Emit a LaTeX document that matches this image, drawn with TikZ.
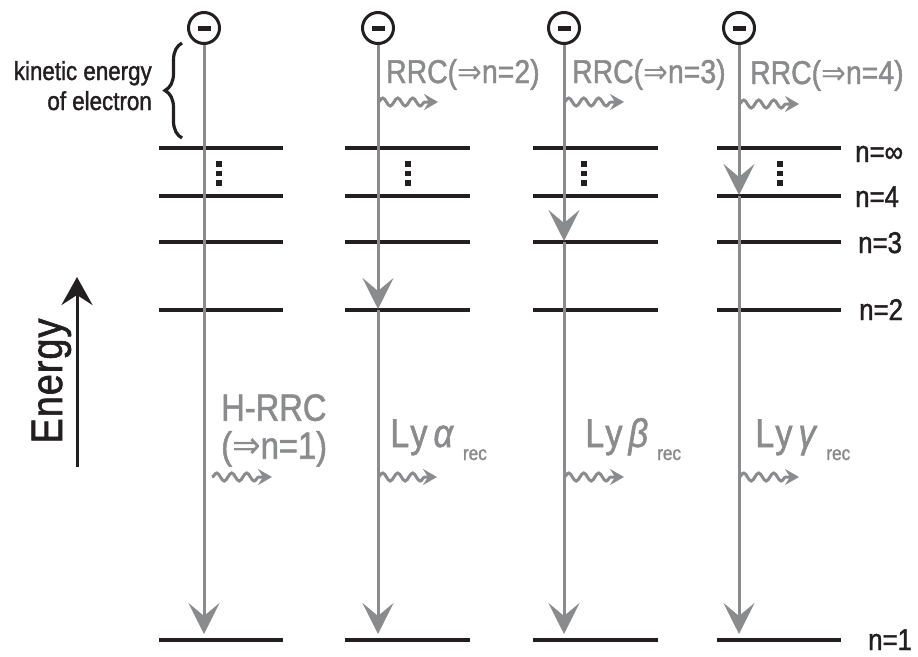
\documentclass[tikz,border=0pt]{standalone}
\usepackage{fontspec}
\setmainfont{Liberation Sans}[FakeStretch=0.86, FakeBold=1.4]
\newfontfamily\symf{DejaVu Sans}[FakeStretch=0.9]
\usetikzlibrary{arrows.meta,decorations.pathmorphing,decorations.pathreplacing}
\definecolor{lgray}{HTML}{8A8B8D}
\definecolor{dk}{HTML}{231F20}
\newcommand{\myra}{{\symf ⇒}}
\begin{document}
\begin{tikzpicture}[x=1pt,y=-1pt,
  level/.style={draw=dk, line width=3.5pt},
  eline/.style={draw=lgray, line width=3pt},
  earrow/.style={eline, -{Stealth[length=31pt,width=31pt,inset=13pt]}, color=lgray},
  photon/.style={draw=lgray, line width=3pt, decorate,
    decoration={snake, amplitude=4pt, segment length=15pt, post length=11pt},
    -{Stealth[length=14pt,width=16pt,inset=5pt]}},
  glabel/.style={text=lgray, inner sep=0pt, anchor=base west},
  lvl/.style={text=dk, inner sep=0pt, anchor=base west, font=\fontsize{30}{30}\selectfont},
  blabel/.style={text=dk, inner sep=0pt, anchor=base east, font=\fontsize{26}{26}\selectfont},
  electron/.style={circle, draw=dk, line width=3pt, minimum size=31pt, inner sep=0pt, fill=white}
]
\useasboundingbox (0,0) rectangle (918,656);

% levels, dots, electrons
\foreach \ci/\colx/\barl/\barrr/\dotx in {1/204/159/283/219, 2/378/345/470/408, 3/564/533/658/584, 4/739/717/841/780}{
  \foreach \lv/\yy in {inf/148, 4/196, 3/242, 2/310, 1/640}{
    \draw[level] (\barl,\yy) -- (\barrr,\yy);
    \coordinate (c\ci-\lv) at (\colx,\yy);
  }
  \foreach \dy in {164,173.5,183}{
    \fill[dk] (\dotx-2.7,\dy-2.7) rectangle (\dotx+2.7,\dy+2.7);
  }
  \node[electron] (e\ci) at (\colx,28) {};
  \fill[dk] (\colx-6.5,25.5) rectangle (\colx+6.5,30.5);
  \coordinate (t\ci) at (\colx,634);
}

% electron transitions
\coordinate (s2) at (378,309);
\coordinate (s3) at (564,241);
\coordinate (s4) at (739,195);
\draw[earrow] (e1.south) -- (t1);
\draw[earrow] (e2.south) -- (s2);
\draw[earrow] (c2-2) -- (t2);
\draw[earrow] (e3.south) -- (s3);
\draw[earrow] (c3-3) -- (t3);
\draw[earrow] (e4.south) -- (s4);
\draw[earrow] (c4-4) -- (t4);

% photons
\coordinate (p2a) at (378,102); \coordinate (p2b) at (438,102);
\coordinate (p3a) at (564,102); \coordinate (p3b) at (624,102);
\coordinate (p4a) at (739,104); \coordinate (p4b) at (799,104);
\coordinate (q1a) at (212,477); \coordinate (q1b) at (272,477);
\coordinate (q2a) at (378,477); \coordinate (q2b) at (437,477);
\coordinate (q3a) at (564,477); \coordinate (q3b) at (624,477);
\coordinate (q4a) at (739,477); \coordinate (q4b) at (799,477);
\foreach \a/\b in {p2a/p2b, p3a/p3b, p4a/p4b, q1a/q1b, q2a/q2b, q3a/q3b, q4a/q4b}{
  \draw[photon] (\a) -- (\b);
}

% RRC labels
\node[glabel, font=\fontsize{33}{33}\selectfont] (r2) at (386,83) {RRC(\myra n=2)};
\node[glabel, font=\fontsize{33}{33}\selectfont] (r3) at (572,83) {RRC(\myra n=3)};
\node[glabel, font=\fontsize{33}{33}\selectfont] (r4) at (750,84) {RRC(\myra n=4)};

% H-RRC
\node[glabel, anchor=north west, align=left, font=\fontsize{38}{38}\selectfont] (h1) at (221,394) {H-RRC\\(\myra n=1)};

% Lyman labels
\node[glabel, font=\fontsize{40}{40}\selectfont] (ly2) at (390,447)
  {L\kern1pt y\kern6pt\textit{α}\kern9pt\raisebox{-13pt}{\fontsize{20}{20}\selectfont rec}};
\node[glabel, font=\fontsize{40}{40}\selectfont] (ly3) at (585,447)
  {L\kern1pt y\kern6pt\textit{β}\kern9pt\raisebox{-13pt}{\fontsize{20}{20}\selectfont rec}};
\node[glabel, font=\fontsize{40}{40}\selectfont] (ly4) at (755,447)
  {L\kern1pt y\kern6pt\textit{γ}\kern9pt\raisebox{-13pt}{\fontsize{20}{20}\selectfont rec}};

% level labels
\node[lvl] (ninf) at (855,162) {n=∞};
\node[lvl] (n4) at (855,207) {n=4};
\node[lvl] (n3) at (858,253) {n=3};
\node[lvl] (n2) at (859,320) {n=2};
\node[lvl] (n1) at (868,650) {n=1};

% kinetic energy
\node[blabel] (ke1) at (152,80) {kinetic energy};
\node[blabel] (ke2) at (152,110) {of electron};
\coordinate (br1) at (182,138);
\coordinate (br2) at (182,43);
\draw[dk, line width=3.2pt, decorate, decoration={brace, amplitude=17pt}] (br1) -- (br2);

% energy axis
\node[rotate=90, anchor=base, text=dk, inner sep=0pt, font=\fontsize{44}{44}\selectfont] (en) at (62,381) {E\kern1pt n\kern1pt e\kern1pt r\kern1pt g\kern1pt y};
\coordinate (ea) at (77,467);
\coordinate (eb) at (77,277);
\draw[line width=3pt, dk, -{Stealth[length=28pt,width=31pt,inset=10pt]}] (ea) -- (eb);
\end{tikzpicture}
\end{document}
